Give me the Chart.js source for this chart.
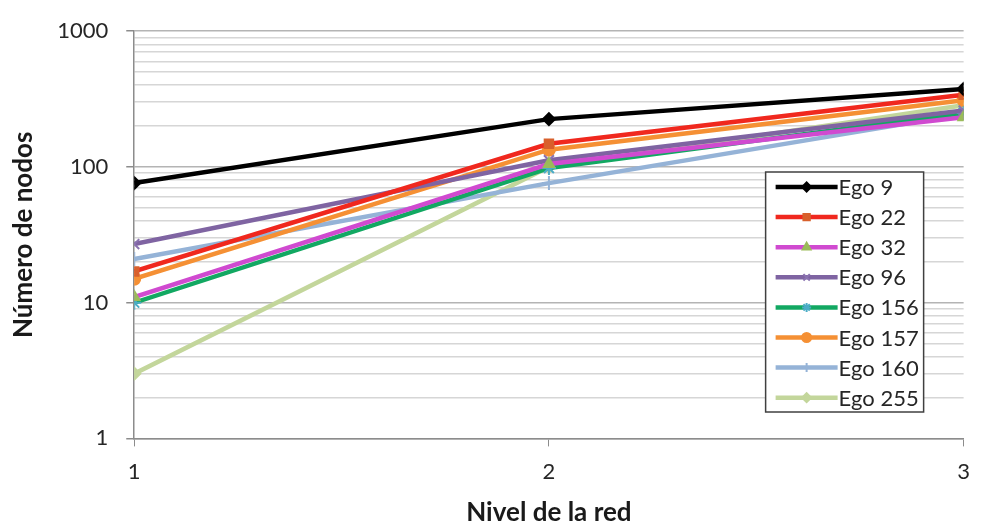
<!DOCTYPE html>
<html>
<head>
<meta charset="utf-8">
<script src="https://cdn.jsdelivr.net/npm/chart.js@4/dist/chart.umd.min.js"></script>
<style>
  html, body { margin: 0; padding: 0; background: #fff; }
  #wrap { width: 982px; height: 529px; }
</style>
</head>
<body>
<div id="wrap"><canvas id="lineChart" width="982" height="529"></canvas></div>
<script>
// niveles de la red (eje x)
const levels = [1, 2, 3];

// nombres de las series
const egoNames = ['Ego 9', 'Ego 22', 'Ego 32', 'Ego 96', 'Ego 156', 'Ego 157', 'Ego 160', 'Ego 255'];

// número de nodos por nivel (eje log)
const ego9   = [76, 225, 375];
const ego22  = [17, 148, 340];
const ego32  = [11, 105, 232];
const ego96  = [27, 112, 260];
const ego156 = [10, 98, 250];
const ego157 = [15, 134, 310];
const ego160 = [21, 76, 245];
const ego255 = [3, 100, 285];

// etiquetas del eje y
const yTickLabels = [1, 10, 100, 1000];

const seriesValues = [ego9, ego22, ego32, ego96, ego156, ego157, ego160, ego255];

// estilos de cada serie: color de línea, marcador, color de marcador
const styles = [
    { line: '#000000', point: 'rectRot', pc: '#000000', r: 6 },
    { line: '#f0281e', point: 'rect', pc: '#d8602c', r: 6 },
    { line: '#d04ad0', point: 'triangle', pc: '#9bbb59', r: 6 },
    { line: '#7f64a2', point: 'crossRot', pc: '#8a72b0', r: 7 },
    { line: '#12a862', point: 'star', pc: '#4bacc6', r: 7 },
    { line: '#f59034', point: 'circle', pc: '#f59034', r: 6 },
    { line: '#95b3d7', point: 'cross', pc: '#95b3d7', r: 7 },
    { line: '#c3d69b', point: 'rectRot', pc: '#c3d69b', r: 6 }
];

const datasets = egoNames.map((name, i) => ({
    label: name,
    data: levels.map((lv, j) => ({ x: lv, y: seriesValues[i][j] })),
    borderColor: styles[i].line,
    backgroundColor: styles[i].pc,
    pointBorderColor: styles[i].pc,
    pointBackgroundColor: styles[i].pc,
    pointStyle: styles[i].point,
    pointRadius: styles[i].r,
    pointBorderWidth: 2,
    borderWidth: 4.5,
    tension: 0
}));

const FONT = 'Lato, "Open Sans", sans-serif';

// leyenda dibujada dentro del área del gráfico (como en Excel)
const insideLegend = {
    id: 'insideLegend',
    afterDatasetsDraw(chart) {
        const ctx = chart.ctx;
        const area = chart.chartArea;
        const boxW = 158, rowH = 30.1;
        const x0 = area.right - 40 - boxW;
        const y0 = 172;
        const boxH = 240;
        ctx.save();
        ctx.fillStyle = '#ffffff';
        ctx.fillRect(x0, y0, boxW, boxH);
        ctx.strokeStyle = '#404040';
        ctx.lineWidth = 1.5;
        ctx.strokeRect(x0, y0, boxW, boxH);
        ctx.font = '22px ' + FONT;
        ctx.textBaseline = 'middle';
        chart.data.datasets.forEach((ds, i) => {
            const cy = y0 + 15 + i * rowH;
            ctx.strokeStyle = ds.borderColor;
            ctx.lineWidth = 4.5;
            ctx.beginPath();
            ctx.moveTo(x0 + 10, cy);
            ctx.lineTo(x0 + 72, cy);
            ctx.stroke();
            ctx.fillStyle = ds.pointBackgroundColor;
            ctx.strokeStyle = ds.pointBorderColor;
            ctx.lineWidth = 2;
            Chart.helpers.drawPoint(ctx, {
                pointStyle: ds.pointStyle,
                radius: 4.5,
                borderWidth: 2,
                rotation: 0
            }, x0 + 41, cy);
            ctx.fillStyle = '#262626';
            ctx.fillText(ds.label, x0 + 73, cy + 1);
        });
        ctx.restore();
    }
};

const isMajor = v => yTickLabels.includes(v);

const ctx = document.getElementById('lineChart');
const chart = new Chart(ctx, {
    type: 'line',
    data: { datasets: datasets },
    options: {
        responsive: false,
        animation: false,
        layout: { padding: { left: 8, right: 16, top: 9, bottom: 1 } },
        plugins: {
            legend: { display: false },
            tooltip: { enabled: false }
        },
        scales: {
            x: {
                type: 'linear',
                min: 1,
                max: 3,
                afterBuildTicks: axis => { axis.ticks = levels.map(v => ({ value: v })); },
                border: { color: '#8c8c8c', width: 1.5 },
                grid: { drawOnChartArea: false, drawTicks: true, tickLength: 8, color: '#8c8c8c' },
                ticks: {
                    padding: 12,
                    color: '#262626',
                    font: { family: FONT, size: 22 },
                    callback: v => String(v)
                },
                title: {
                    display: true,
                    text: 'Nivel de la red',
                    color: '#1a1a1a',
                    font: { family: FONT, size: 26, weight: 'bold' },
                    padding: { top: 0, bottom: 0 }
                }
            },
            y: {
                type: 'logarithmic',
                min: 1,
                max: 1000,
                afterBuildTicks: axis => {
                    const t = [];
                    for (let d = 1; d < 1000; d *= 10) {
                        for (let k = 1; k < 10; k++) t.push({ value: k * d });
                    }
                    t.push({ value: 1000 });
                    axis.ticks = t;
                },
                border: { color: '#8c8c8c', width: 1.5 },
                grid: {
                    color: c => isMajor(c.tick.value) ? '#b4b4b4' : '#d6d6d6',
                    lineWidth: 1.5,
                    tickColor: c => isMajor(c.tick.value) ? '#8c8c8c' : 'rgba(0,0,0,0)',
                    tickLength: 8
                },
                ticks: {
                    autoSkip: false,
                    padding: 18,
                    color: '#262626',
                    font: { family: FONT, size: 22 },
                    callback: v => isMajor(v) ? String(v) : ''
                },
                title: {
                    display: true,
                    text: 'Número de nodos',
                    color: '#1a1a1a',
                    font: { family: FONT, size: 26, weight: 'bold' },
                    padding: { top: 0, bottom: 0 }
                }
            }
        }
    },
    plugins: [insideLegend]
});
</script>
</body>
</html>
